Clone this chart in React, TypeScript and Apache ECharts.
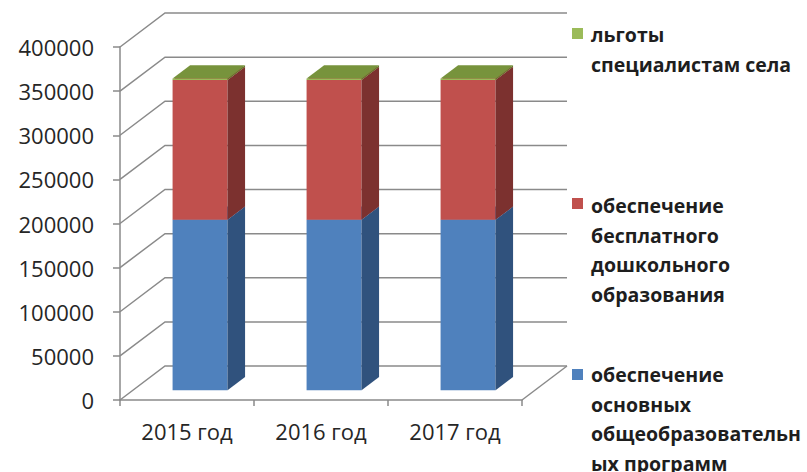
import React, { useEffect, useRef } from "react";
import * as echarts from "echarts";

const categories = ["2015 год", "2016 год", "2017 год"];
const seriesNames = [
  "обеспечение основных общеобразовательных программ",
  "обеспечение бесплатного дошкольного образования",
  "льготы специалистам села",
];
const basicPrograms = [193000, 193000, 193000];
const preschool = [158500, 158500, 158500];
const ruralBenefits = [1500, 1500, 1500];
const yTicks = [0, 50000, 100000, 150000, 200000, 250000, 300000, 350000, 400000];
const legendLines = [
  ["льготы", "специалистам села"],
  ["обеспечение", "бесплатного", "дошкольного", "образования"],
  ["обеспечение", "основных", "общеобразовательн", "ых программ"],
];

const DX = 45;
const DY = -34;
const F1 = 0.29;
const F2 = 0.68;
const BAR_W = 0.41;
const FONT = "'Open Sans', 'Noto Sans', sans-serif";
const GRID_COLOR = "#8a8a8a";

const faces = [
  { front: "#4f81bd", side: "#30527d", top: "#4f81bd" },
  { front: "#c0504d", side: "#7c312f", top: "#c0504d" },
  { front: "#9bbb59", side: "#5f7a2d", top: "#77933c" },
];

function makeBarRender(idx: number) {
  const col = faces[idx];
  return (params: any, api: any) => {
    const cat = api.value(0);
    const lo = api.value(1);
    const hi = api.value(2);
    const band = api.size([1, 0])[0];
    const c0 = api.coord([cat, lo]);
    const c1 = api.coord([cat, hi]);
    const w = band * BAR_W;
    const fx = c0[0] - w / 2 + DX * F1;
    const fy0 = c0[1] + DY * F1;
    const fy1 = c1[1] + DY * F1;
    const sdx = DX * (F2 - F1);
    const sdy = DY * (F2 - F1);
    return {
      type: "group",
      children: [
        {
          type: "polygon",
          shape: { points: [[fx, fy0], [fx + w, fy0], [fx + w, fy1], [fx, fy1]] },
          style: { fill: col.front },
        },
        {
          type: "polygon",
          shape: {
            points: [
              [fx + w, fy0],
              [fx + w + sdx, fy0 + sdy],
              [fx + w + sdx, fy1 + sdy],
              [fx + w, fy1],
            ],
          },
          style: { fill: col.side },
        },
        {
          type: "polygon",
          shape: {
            points: [
              [fx, fy1],
              [fx + w, fy1],
              [fx + w + sdx, fy1 + sdy],
              [fx + sdx, fy1 + sdy],
            ],
          },
          style: { fill: col.top },
        },
      ],
    };
  };
}

function wallRender(params: any, api: any) {
  const v = api.value(1);
  const band = api.size([1, 0])[0];
  const c = api.coord([0, v]);
  const L = c[0] - band / 2;
  const R = L + band * categories.length;
  const y = c[1];
  const children: any[] = [
    {
      type: "polyline",
      shape: { points: [[L, y], [L + DX, y + DY], [R + DX, y + DY]] },
      style: { stroke: GRID_COLOR, lineWidth: 1.5, fill: null },
    },
  ];
  if (v === 0) {
    children.push({
      type: "line",
      shape: { x1: R, y1: y, x2: R + DX, y2: y + DY },
      style: { stroke: GRID_COLOR, lineWidth: 1.5 },
    });
  }
  return { type: "group", children };
}

export default function App() {
  const ref = useRef<HTMLDivElement>(null);
  useEffect(() => {
    if (!ref.current) return;
    const chart = echarts.init(ref.current, undefined, { renderer: "svg" });
    const stacks = [basicPrograms, preschool, ruralBenefits];
    const bases = categories.map(() => 0);
    const barSeries = stacks.map((vals, si) => {
      const data = vals.map((v, i) => {
        const lo = bases[i];
        bases[i] += v;
        return [i, lo, lo + v];
      });
      return {
        type: "custom",
        name: seriesNames[si],
        renderItem: makeBarRender(si),
        encode: { x: 0, y: [1, 2] },
        data,
        z: 3,
      };
    });
    const legendGraphics: any[] = [];
    const legendTops = [20, 191, 360];
    const squareTops = [28, 198, 369];
    const legendColors = [faces[2].front, faces[1].front, faces[0].front];
    legendLines.forEach((lines, i) => {
      legendGraphics.push({
        type: "rect",
        left: 572,
        top: squareTops[i],
        shape: { width: 11, height: 11 },
        style: { fill: legendColors[i] },
      });
      legendGraphics.push({
        type: "text",
        left: 591,
        top: legendTops[i],
        style: {
          text: lines.join("\n"),
          font: `bold 19.5px ${FONT}`,
          lineHeight: 29.5,
          fill: "#1e1e1e",
        },
      });
    });
    chart.setOption({
      animation: false,
      backgroundColor: "#ffffff",
      grid: { left: 120, top: 47, width: 402, height: 353 },
      xAxis: {
        type: "category",
        data: categories,
        axisLine: { show: true, lineStyle: { color: GRID_COLOR, width: 1.5 } },
        axisTick: { show: true, length: 6, lineStyle: { color: GRID_COLOR, width: 1.5 } },
        axisLabel: { fontSize: 22, fontFamily: FONT, color: "#262626", margin: 20 },
        splitLine: { show: false },
      },
      yAxis: {
        type: "value",
        min: 0,
        max: 400000,
        interval: 50000,
        axisLine: { show: true, lineStyle: { color: GRID_COLOR, width: 1.5 } },
        axisTick: { show: true, length: 7, lineStyle: { color: GRID_COLOR, width: 1.5 } },
        axisLabel: {
          fontSize: 22,
          fontFamily: FONT,
          color: "#262626",
          margin: 26,
          formatter: (v: number) => String(v),
        },
        splitLine: { show: false },
      },
      series: [
        {
          type: "custom",
          name: "walls",
          renderItem: wallRender,
          encode: { x: 0, y: 1 },
          data: yTicks.map((v) => [0, v]),
          z: 1,
          silent: true,
        },
        ...barSeries,
      ],
      graphic: legendGraphics,
    });
    return () => chart.dispose();
  }, []);
  return (
    <div
      ref={ref}
      style={{ position: "fixed", left: 0, top: 0, width: 807, height: 472 }}
    />
  );
}
